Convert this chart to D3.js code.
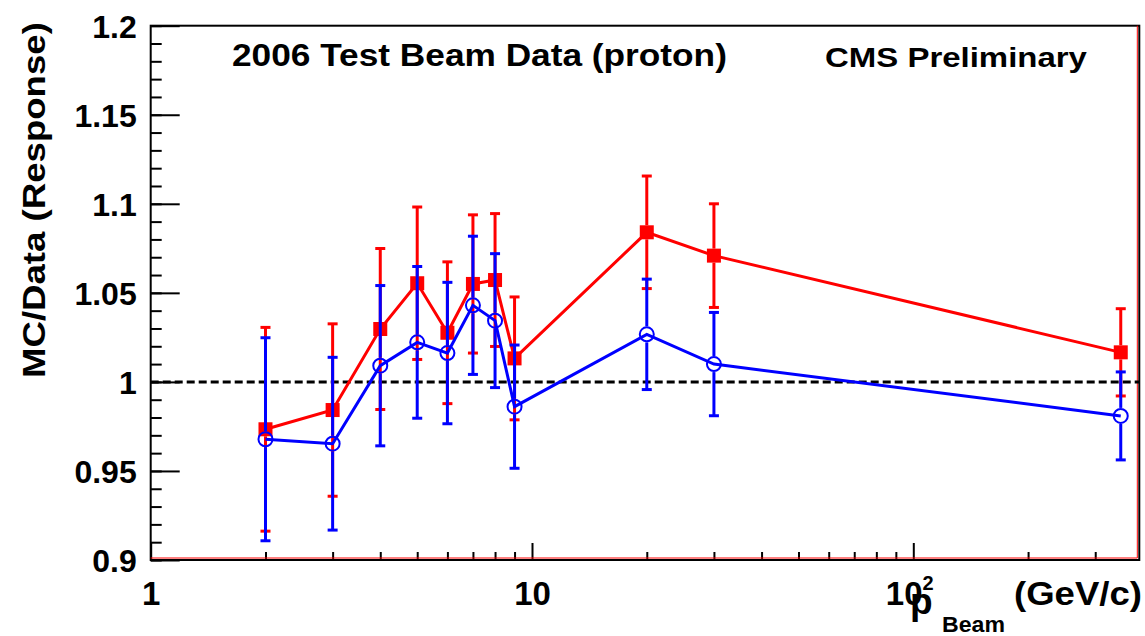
<!DOCTYPE html>
<html>
<head>
<meta charset="utf-8">
<script src="https://cdn.jsdelivr.net/npm/d3@7"></script>
<style>
  body { margin: 0; background: #fff; }
  svg text { font-family: "Liberation Sans", Arial, Helvetica, sans-serif; font-weight: bold; fill: #000; }
</style>
</head>
<body>
<figure id="ratio" style="margin:0"></figure>
<script>
// beam momenta (GeV/c)
const pBeam = [2, 3, 4, 5, 6, 7, 8, 9, 20, 30, 350];
// red squares
const ratioA = [0.9734, 0.9842, 1.0297, 1.0554, 1.0276, 1.0550, 1.0572, 1.0132, 1.0840, 1.0709, 1.0166];
const errA   = [0.0572, 0.0484, 0.0452, 0.0428, 0.0398, 0.0388, 0.0373, 0.0345, 0.0316, 0.0291, 0.0245];
// blue open circles
const ratioB = [0.9678, 0.9653, 1.0091, 1.0222, 1.0162, 1.0430, 1.0344, 0.9861, 1.0267, 1.0100, 0.9809];
const errB   = [0.0570, 0.0485, 0.0450, 0.0426, 0.0397, 0.0388, 0.0376, 0.0346, 0.0310, 0.0290, 0.0247];

const yMajor = [0.9, 0.95, 1, 1.05, 1.1, 1.15, 1.2];
const yMinor = d3.range(0, 31).map(i => +(0.9 + i * 0.01).toFixed(2));
const xMajor = [1, 10, 100];
const xMinor = [2, 3, 4, 5, 6, 7, 8, 9, 20, 30, 40, 50, 60, 70, 80, 90, 200, 300];

let dimensions = {
  width: 1145,
  height: 636,
  margin: { top: 25.7, right: 5.7, bottom: 76, left: 150.7 }
};
dimensions.boundedWidth = dimensions.width - dimensions.margin.left - dimensions.margin.right;
dimensions.boundedHeight = dimensions.height - dimensions.margin.top - dimensions.margin.bottom;

const root = d3.select("figure#ratio")
  .append("svg")
  .attr("width", dimensions.width)
  .attr("height", dimensions.height);

const svg = root.append("g")
  .attr("transform", `translate(${dimensions.margin.left},${dimensions.margin.top})`);

const W = dimensions.boundedWidth, H = dimensions.boundedHeight;

const xScale = d3.scaleLog()
  .domain([1, Math.pow(10, W / 381.3)])
  .range([0, W]);

const yScale = d3.scaleLinear()
  .domain([0.9, 1.2])
  .range([H, 0]);

// y axis minor + major ticks (inward)
svg.append("g")
  .call(d3.axisLeft(yScale).tickValues(yMinor).tickSize(-11).tickFormat(""))
  .call(g => g.select(".domain").remove());
const yAxis = svg.append("g")
  .attr("class", "y axis")
  .call(d3.axisLeft(yScale).tickValues(yMajor).tickSize(-29).tickPadding(14)
    .tickFormat(d => d3.format("~g")(d)))
  .call(g => g.select(".domain").remove());
yAxis.selectAll("text").attr("font-size", 32).attr("dy", "0.36em");

// x axis minor + major ticks (upward)
svg.append("g")
  .attr("transform", `translate(0,${H})`)
  .call(d3.axisBottom(xScale).tickValues(xMinor).tickSize(-8).tickFormat(""))
  .call(g => g.select(".domain").remove());
const xAxis = svg.append("g")
  .attr("class", "x axis")
  .attr("transform", `translate(0,${H})`)
  .call(d3.axisBottom(xScale).tickValues(xMajor).tickSize(-17).tickPadding(22)
    .tickFormat(d => d === 100 ? "" : String(d)))
  .call(g => g.select(".domain").remove());
xAxis.selectAll("text").attr("font-size", 33);
xAxis.selectAll(".tick").filter(d => d === 100).select("text")
  .call(t => {
    t.attr("text-anchor", "start").attr("x", -28);
    t.append("tspan").text("10");
    t.append("tspan").attr("font-size", 20).attr("dy", "-0.75em").text("2");
  });

svg.selectAll(".tick line").attr("stroke", "#000").attr("stroke-width", 2);

// frame
svg.append("rect")
  .attr("width", W).attr("height", H)
  .attr("fill", "none").attr("stroke", "#000").attr("stroke-width", 2);
svg.append("path")
  .attr("d", `M0,${H - 2}H${W - 2}V0`)
  .attr("fill", "none").attr("stroke", "#ff0000").attr("stroke-width", 1);

// reference line at 1
svg.append("line")
  .attr("x1", xScale(1)).attr("x2", W)
  .attr("y1", yScale(1)).attr("y2", yScale(1))
  .attr("stroke", "#000").attr("stroke-width", 3)
  .attr("stroke-dasharray", "8,4");

function drawSeries(vals, errs, color, gap, marker) {
  const data = pBeam.map((p, i) => ({ p: p, v: vals[i], e: errs[i] }));
  const g = svg.append("g");
  g.append("path")
    .datum(data)
    .attr("fill", "none")
    .attr("stroke", color)
    .attr("stroke-width", 3)
    .attr("d", d3.line().x(d => xScale(d.p)).y(d => yScale(d.v)));

  const bars = g.selectAll(".bar").data(data).enter().append("g");
  bars.append("line")
    .attr("x1", d => xScale(d.p)).attr("x2", d => xScale(d.p))
    .attr("y1", d => yScale(d.v) - gap).attr("y2", d => yScale(d.v + d.e))
    .attr("stroke", color).attr("stroke-width", 3);
  bars.append("line")
    .attr("x1", d => xScale(d.p)).attr("x2", d => xScale(d.p))
    .attr("y1", d => yScale(d.v) + gap).attr("y2", d => yScale(d.v - d.e))
    .attr("stroke", color).attr("stroke-width", 3);
  [1, -1].forEach(s => {
    bars.append("line")
      .attr("x1", d => xScale(d.p) - 5).attr("x2", d => xScale(d.p) + 5)
      .attr("y1", d => yScale(d.v + s * d.e)).attr("y2", d => yScale(d.v + s * d.e))
      .attr("stroke", color).attr("stroke-width", 3);
  });

  if (marker === "square") {
    g.selectAll(".mk").data(data).enter().append("rect")
      .attr("x", d => xScale(d.p) - 7).attr("y", d => yScale(d.v) - 7)
      .attr("width", 14).attr("height", 14)
      .attr("fill", color);
  } else {
    g.selectAll(".mk").data(data).enter().append("circle")
      .attr("cx", d => xScale(d.p)).attr("cy", d => yScale(d.v))
      .attr("r", 7)
      .attr("fill", "none").attr("stroke", color).attr("stroke-width", 2);
  }
}

drawSeries(ratioA, errA, "#ff0000", 7, "square");
drawSeries(ratioB, errB, "#0000ff", 8, "circle");

// texts; ROOT's Helvetica runs wider than Liberation Sans, so stretch to the measured width
function label(x, y, size, str, width, anchor) {
  const t = root.append("text")
    .attr("font-size", size)
    .attr("text-anchor", "start")
    .text(str);
  const len = t.node().getComputedTextLength();
  const sx = width ? width / len : 1;
  let x0 = x;
  if (anchor === "end") x0 = x - len * sx;
  t.attr("transform", `translate(${x0},${y}) scale(${sx},1)`);
  return t;
}

label(232, 66, 31, "2006 Test Beam Data (proton)", 495);
label(825, 67, 28, "CMS Preliminary", 262);

// y title, rotated
const yTitle = root.append("g").attr("transform", "translate(45,378) rotate(-90)");
const yt = yTitle.append("text").attr("font-size", 31).text("MC/Data (Response)");
yt.attr("transform", `scale(${356 / yt.node().getComputedTextLength()},1)`);

label(910, 614, 37, "p", 0);
label(942, 632, 22, "Beam", 63);
label(1142, 605, 33, "(GeV/c)", 128, "end");
</script>
</body>
</html>
